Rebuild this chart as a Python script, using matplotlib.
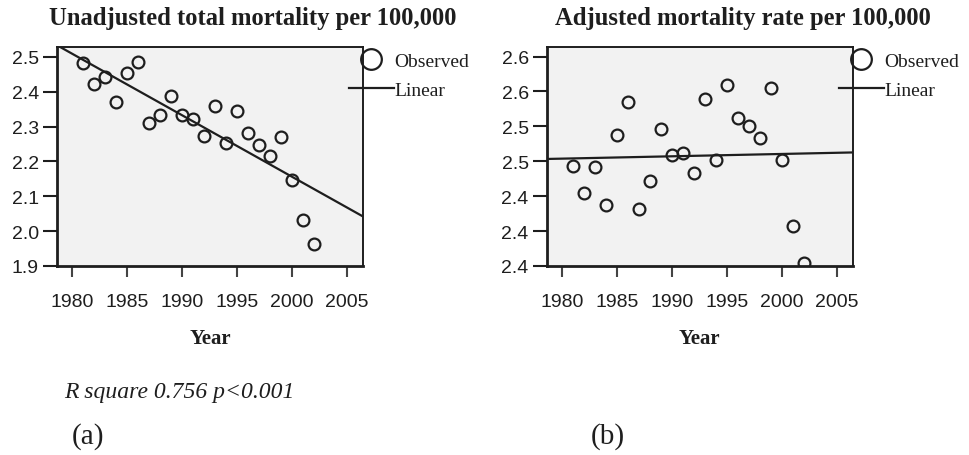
import numpy as np
import matplotlib
matplotlib.use("Agg")
import matplotlib.pyplot as plt
from matplotlib.ticker import FormatStrFormatter

# data
years = np.arange(1981, 2003)
unadjusted = [2.481, 2.422, 2.441, 2.369, 2.453, 2.484, 2.311, 2.332, 2.388, 2.332, 2.321,
              2.273, 2.359, 2.254, 2.344, 2.280, 2.248, 2.216, 2.270, 2.148, 2.033, 1.964]
adjusted = [2.475, 2.444, 2.473, 2.430, 2.510, 2.548, 2.425, 2.457, 2.517, 2.487, 2.489,
            2.467, 2.551, 2.481, 2.568, 2.530, 2.520, 2.507, 2.564, 2.482, 2.406, 2.364]

year_ticks = [1980, 1985, 1990, 1995, 2000, 2005]
unadj_ticks = [1.9, 2.0, 2.1, 2.2, 2.3, 2.4, 2.5]
adj_ticks = [2.36, 2.40, 2.44, 2.48, 2.52, 2.56, 2.60]

titles = ["Unadjusted total mortality per 100,000", "Adjusted mortality rate per 100,000"]
panel_tags = ["(a)", "(b)"]
rsq_note = "R square 0.756 p<0.001"

SERIF = "Liberation Serif"
SANS = "Liberation Sans"
INK = "#1e1e1e"

fig = plt.figure(figsize=(9.7, 4.56), dpi=100)
fig.patch.set_facecolor("white")

W, H = 970.0, 456.0
ax_a = fig.add_axes([57 / W, (H - 267) / H, 306 / W, 219 / H])
ax_b = fig.add_axes([546.7 / W, (H - 267) / H, 306 / W, 219 / H])

xlim = (1978.6, 2006.45)
setups = [
    (ax_a, unadjusted, unadj_ticks, (1.9, 2.528), 252.5 / W, 349 / W),
    (ax_b, adjusted, adj_ticks, (2.36, 2.611), 743 / W, 839 / W),
]

for i, (ax, vals, yt, ylim, tx, lx) in enumerate(setups):
    ax.set_facecolor("#f2f2f2")
    ax.plot(years, vals, linestyle="none", marker="o", ms=8.5, mfc="none",
            mec=INK, mew=1.6, label="Observed")
    slope, icpt = np.polyfit(years, vals, 1)
    xx = np.array(xlim)
    ax.plot(xx, icpt + slope * xx, color=INK, lw=1.6, label="Linear")
    ax.set_xlim(*xlim)
    ax.set_ylim(*ylim)
    ax.set_xticks(year_ticks)
    ax.set_yticks(yt)
    ax.yaxis.set_major_formatter(FormatStrFormatter("%.1f"))
    for s in ax.spines.values():
        s.set_color(INK)
        s.set_linewidth(1.4)
    ax.spines["left"].set_linewidth(2.0)
    ax.spines["bottom"].set_linewidth(2.0)
    ax.tick_params(axis="x", direction="out", length=8, width=1.5, color="#444",
                   pad=11.5, labelsize=14, labelcolor=INK)
    ax.tick_params(axis="y", direction="out", length=10, width=1.5, color=INK,
                   pad=3, labelsize=14, labelcolor=INK)
    for lab in ax.get_xticklabels() + ax.get_yticklabels():
        lab.set_family(SANS)
    ax.set_xlabel("Year", fontfamily=SERIF, fontweight="bold", fontsize=15,
                  color=INK, labelpad=13)
    fig.text(tx, 1 - 19 / H, titles[i], ha="center", va="center",
             fontfamily=SERIF, fontweight="bold", fontsize=17.7, color=INK)
    leg = ax.legend(loc="upper left", bbox_to_anchor=(lx, 1 - 53 / H),
                    bbox_transform=fig.transFigure, frameon=False, markerscale=1.75,
                    handlelength=2.3, handletextpad=0.05, labelspacing=0.62,
                    borderpad=0, borderaxespad=0,
                    prop={"family": SERIF, "size": 14})
    for t in leg.get_texts():
        t.set_color(INK)

fig.text(179 / W, 1 - 393 / H, rsq_note, ha="center", va="center",
         fontfamily=SERIF, fontstyle="italic", fontsize=17, color=INK)
fig.text(88 / W, 1 - 437 / H, panel_tags[0], ha="center", va="center",
         fontfamily=SERIF, fontsize=21, color=INK)
fig.text(608 / W, 1 - 437 / H, panel_tags[1], ha="center", va="center",
         fontfamily=SERIF, fontsize=21, color=INK)

fig.savefig("out.png", dpi=100)
